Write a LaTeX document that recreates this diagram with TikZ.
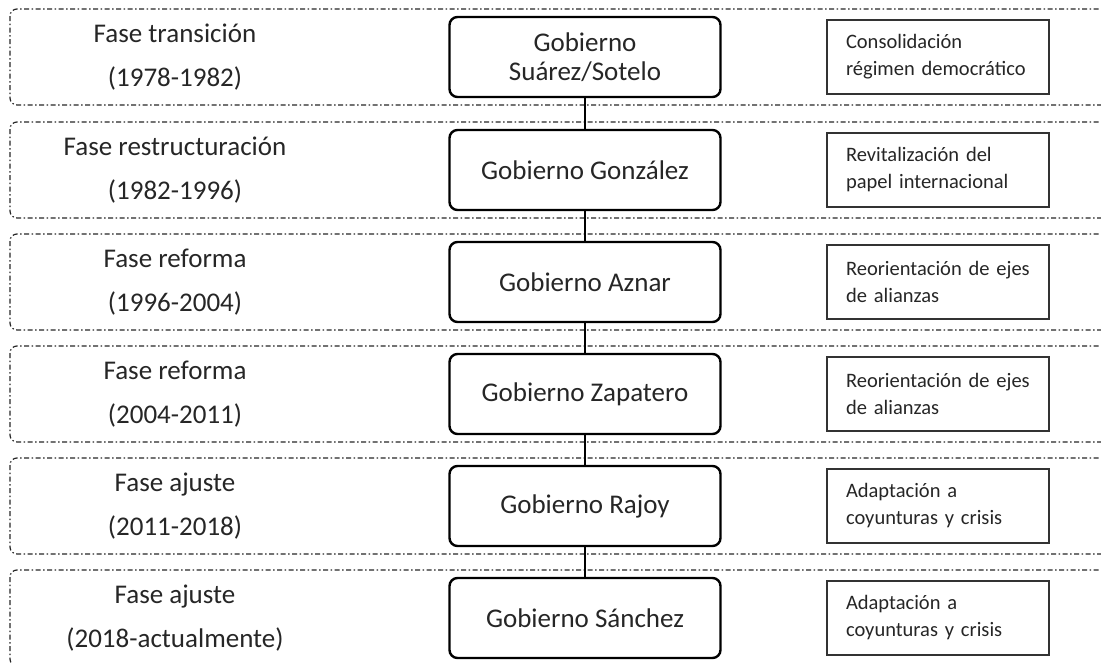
\documentclass[tikz,border=0pt]{standalone}
\usepackage{fontspec}
\setmainfont{Carlito}
\usetikzlibrary{positioning}

\begin{document}
\begin{tikzpicture}[x=1pt, y=-1pt, node distance=410pt,
	band/.style={draw=black!85, line width=1.2pt, dash pattern=on 5pt off 2.5pt on 1.5pt off 2.5pt, rounded corners=7pt},
	fase/.style={align=center, text=black!85, font=\fontsize{27}{44}\selectfont},
	gob/.style={draw=black, line width=2.4pt, rounded corners=8pt, fill=white, minimum width=271pt, minimum height=80pt, align=center, text=black!85, font=\fontsize{27}{29}\selectfont},
	meta/.style={draw=black!80, line width=1.3pt, fill=white, minimum width=222pt, minimum height=74pt, text width=184pt, align=left, text=black!85, font=\fontsize{20.5}{27}\selectfont},
	enlace/.style={draw=black, line width=2pt}]
	\clip (0,0) rectangle (1101,663);
	
	% Bands
	\draw [band] (1110,9)   -- (10,9)   -- (10,105) -- (1110,105);
	\draw [band] (1110,122) -- (10,122) -- (10,218) -- (1110,218);
	\draw [band] (1110,234) -- (10,234) -- (10,330) -- (1110,330);
	\draw [band] (1110,346) -- (10,346) -- (10,442) -- (1110,442);
	\draw [band] (1110,458) -- (10,458) -- (10,554) -- (1110,554);
	\draw [band] (1110,570) -- (10,570) -- (10,666) -- (1110,666);
	
	% Nodes {fases, gobiernos, metas}
	\node [fase] (fase1) at (175,57)  {Fase transición\\(1978-1982)};
	\node [fase] (fase2) at (175,170) {Fase restructuración\\(1982-1996)};
	\node [fase] (fase3) at (175,282) {Fase reforma\\(1996-2004)};
	\node [fase] (fase4) at (175,394) {Fase reforma\\(2004-2011)};
	\node [fase] (fase5) at (175,506) {Fase ajuste\\(2011-2018)};
	\node [fase] (fase6) at (175,618) {Fase ajuste\\(2018-actualmente)};
	
	\node [gob] (suarez)   [right of=fase1] {Gobierno\\Suárez/Sotelo};
	\node [gob] (gonzalez) [right of=fase2] {Gobierno González};
	\node [gob] (aznar)    [right of=fase3] {Gobierno Aznar};
	\node [gob] (zapatero) [right of=fase4] {Gobierno Zapatero};
	\node [gob] (rajoy)    [right of=fase5] {Gobierno Rajoy};
	\node [gob] (sanchez)  [right of=fase6] {Gobierno Sánchez};
	
	\node [meta] (meta1) [right of=suarez,   node distance=353pt] {Consolidación\\régimen democrático};
	\node [meta] (meta2) [right of=gonzalez, node distance=353pt] {Revitalización del\\papel internacional};
	\node [meta] (meta3) [right of=aznar,    node distance=353pt] {Reorientación de ejes\\de alianzas};
	\node [meta] (meta4) [right of=zapatero, node distance=353pt] {Reorientación de ejes\\de alianzas};
	\node [meta] (meta5) [right of=rajoy,    node distance=353pt] {Adaptación a\\coyunturas y crisis};
	\node [meta] (meta6) [right of=sanchez,  node distance=353pt] {Adaptación a\\coyunturas y crisis};
	
	% Paths
	\path [enlace] (suarez) -- (gonzalez);
	\path [enlace] (gonzalez) -- (aznar);
	\path [enlace] (aznar) -- (zapatero);
	\path [enlace] (zapatero) -- (rajoy);
	\path [enlace] (rajoy) -- (sanchez);
	
\end{tikzpicture}
\end{document}
